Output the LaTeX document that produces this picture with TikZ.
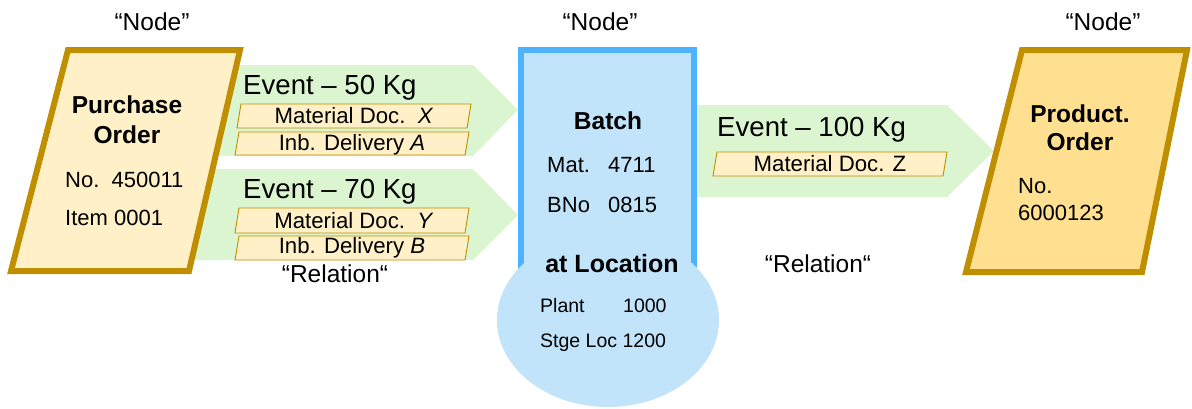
\documentclass[tikz,border=0pt]{standalone}
\usepackage{fontspec}
\setmainfont{Liberation Sans}
\definecolor{gold}{HTML}{BF8F00}
\definecolor{paleyel}{HTML}{FFF0C8}
\definecolor{yel}{HTML}{FFE090}
\definecolor{mint}{HTML}{DAF5CF}
\definecolor{bluefill}{HTML}{C2E4FA}
\definecolor{blueline}{HTML}{4DB3FF}
\newcommand{\fsz}[1]{\fontsize{#1}{#1}\selectfont}
\tikzset{
  relarrow/.style={fill=mint, draw=none},
  order/.style={draw=gold, line width=6pt, line join=miter},
  docbox/.style={draw=gold, fill=paleyel, line width=0.9pt},
  doctext/.style={anchor=base, inner sep=0pt, font=\fsz{22.2}},
  evtext/.style={anchor=base west, inner sep=0pt, font=\fsz{27.6}},
  titletext/.style={anchor=base, inner sep=0pt, font=\fsz{24.5}\bfseries},
  bodytext/.style={anchor=base west, inner sep=0pt, font=\fsz{22}},
  labeltext/.style={anchor=base, inner sep=0pt, font=\fsz{24.5}},
}
\begin{document}
\begin{tikzpicture}[x=1pt,y=-1pt]
\useasboundingbox (0,0) rectangle (1192,408);
% relation arrows
\draw[relarrow] (150,65) -- (473,65) -- (518,110) -- (473,156) -- (150,156) -- cycle;
\draw[relarrow] (150,169) -- (473,169) -- (518,215) -- (473,260) -- (150,260) -- cycle;
\draw[relarrow] (690,105) -- (947,105) -- (994,151) -- (947,197) -- (690,197) -- cycle;
% purchase order
\draw[order, fill=paleyel] (68,50) -- (240,50) -- (189,271) -- (11,271) -- cycle;
% product order
\draw[order, fill=yel] (1022,50) -- (1187,50) -- (1142,272) -- (966,272) -- cycle;
% batch
\draw[draw=blueline, fill=bluefill, line width=6pt] (521,340) -- (521,50) -- (694,50) -- (694,340);
\fill[bluefill] (608,320) ellipse [x radius=111, y radius=87];
% doc boxes
\draw[docbox] (241,104) -- (471,104) -- (467,128) -- (237,128) -- cycle;
\draw[docbox] (239,132) -- (469,132) -- (465,155) -- (235,155) -- cycle;
\draw[docbox] (239,208) -- (469,208) -- (465,233) -- (235,233) -- cycle;
\draw[docbox] (239,236) -- (469,236) -- (465,260) -- (235,260) -- cycle;
\draw[docbox] (717,152) -- (947,152) -- (943,176) -- (713,176) -- cycle;
\node[doctext] (dx) at (354,123) {Material Doc.\ \ \textit{X}};
\node[doctext] (da) at (352,150) {Inb. Delivery \textit{A}};
\node[doctext] (dy) at (354,228) {Material Doc.\ \ \textit{Y}};
\node[doctext] (db) at (352,253) {Inb. Delivery \textit{B}};
\node[doctext] (dz) at (830,171) {Material Doc. Z};
% event texts
\node[evtext] (e1) at (243,94) {Event – 50 Kg};
\node[evtext] (e2) at (243,198) {Event – 70 Kg};
\node[evtext] (e3) at (717,136) {Event – 100 Kg};
% purchase order text
\node[titletext] (po1) at (127,113) {Purchase};
\node[titletext] (po2) at (127,143) {Order};
\node[bodytext] (po3) at (65,187) {No.\ \ 450011};
\node[bodytext] (po4) at (65,225) {Item 0001};
% product order text
\node[titletext] (pr1) at (1080,122) {Product.};
\node[titletext] (pr2) at (1080,150) {Order};
\node[bodytext] (pr3) at (1018,193) {No.};
\node[bodytext] (pr4) at (1018,220) {6000123};
% batch text
\node[titletext] (b1) at (608,129) {Batch};
\node[bodytext] (b2) at (547,172) {Mat.};
\node[bodytext] (b3) at (608,172) {4711};
\node[bodytext] (b4) at (547,212) {BNo};
\node[bodytext] (b5) at (608,212) {0815};
\node[titletext, font=\fsz{25}\bfseries] (l1) at (612,272) {at Location};
\node[bodytext, font=\fsz{19.5}] (l2) at (540,312) {Plant};
\node[bodytext, font=\fsz{19.5}] (l3) at (623,312) {1000};
\node[bodytext, font=\fsz{19.5}] (l4) at (540,347) {Stge Loc 1200};
% labels
\node[labeltext] (n1) at (152,30) {“Node”};
\node[labeltext] (n2) at (600,30) {“Node”};
\node[labeltext] (n3) at (1103,30) {“Node”};
\node[labeltext] (r1) at (335,282) {“Relation“};
\node[labeltext] (r2) at (818,272) {“Relation“};
\end{tikzpicture}
\end{document}
